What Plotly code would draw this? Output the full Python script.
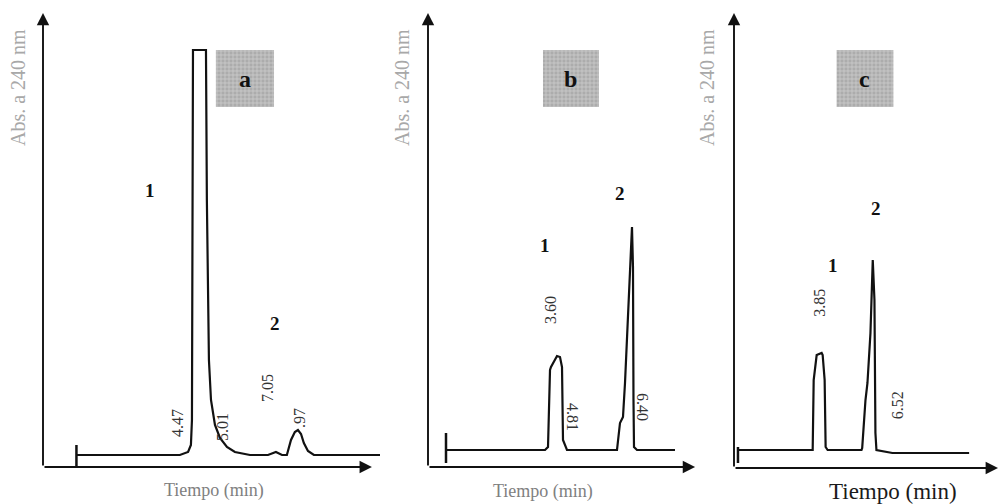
import plotly.graph_objects as go

# ---------------- data (time in min, absorbance in AU) -------------
# Panel a
a_t = [0.0, 4.02, 4.34, 4.45, 4.49, 4.53, 5.035, 5.07, 5.15, 5.23, 5.385, 5.58, 5.85, 6.16,
       6.745, 7.445, 7.755, 7.99, 8.18, 8.34, 8.49, 8.61, 8.73, 8.84, 9.0, 9.23, 11.8]
a_abs = [0.0, 0.0, 0.0075, 0.025, 0.0875, 1.0125, 1.0125, 0.6375, 0.2375, 0.1375, 0.075, 0.0425,
         0.02, 0.0075, 0.0, 0.0, 0.0075, 0.0, 0.0, 0.0375, 0.0575, 0.0625, 0.0525, 0.03, 0.01, 0.0, 0.0]
# Panel b
b_t = [0.0, 3.3, 3.4, 3.433, 3.467, 3.5, 3.7, 3.8, 3.867, 3.9, 4.033, 5.7, 5.8, 5.9, 5.967,
       6.2, 6.233, 6.25, 6.267, 6.367, 7.633]
b_abs = [0.0, 0.0, 0.0075, 0.15, 0.2, 0.2075, 0.235, 0.2325, 0.2075, 0.025, 0.0, 0.0, 0.0675,
         0.0825, 0.1675, 0.5575, 0.4575, 0.125, 0.0075, 0.0, 0.0]
# Panel c
c_t = [0.0, 3.571, 3.619, 3.762, 4.0, 4.048, 4.143, 4.19, 4.286, 5.905, 5.938, 6.095, 6.19,
       6.333, 6.443, 6.524, 6.571, 6.619, 7.381, 11.05]
c_abs = [0.0, 0.0, 0.175, 0.2375, 0.2425, 0.2375, 0.175, 0.0075, 0.0, 0.0, 0.005, 0.125, 0.1675,
         0.2925, 0.475, 0.375, 0.0425, 0.0, -0.0075, -0.0075]

# injection marks (t = 0)
inj_a = [-0.0375, 0.025]
inj_b = [-0.0325, 0.0425]
inj_c = [-0.0325, 0.0075]

# retention-time labels: (text, t, abs, angle)
a_rt = [("4.47", 3.91, 0.08, -90), ("5.01", 5.66, 0.07, -90),
        ("7.05", 7.41, 0.1675, -90), (".97", 8.65, 0.0925, -90)]
b_rt = [("3.60", 3.467, 0.35, -90), ("4.81", 4.233, 0.0825, 90), ("6.40", 6.567, 0.1075, 90)]
c_rt = [("3.85", 3.857, 0.3675, -90), ("6.52", 7.619, 0.1125, -90)]

# peak numbers: (text, t, abs)
a_pk = [("1", 2.86, 0.6625), ("2", 7.72, 0.33)]
b_pk = [("1", 3.3, 0.5125), ("2", 5.8, 0.6425)]
c_pk = [("1", 4.524, 0.4625), ("2", 6.619, 0.605)]

# panel tags: (letter, t0, t1, abs0, abs1)
a_tag = ("a", 5.42, 7.68, 0.87, 1.0125)
b_tag = ("b", 3.233, 5.1, 0.8575, 1.0)
c_tag = ("c", 4.714, 7.429, 0.8575, 1.0)

y_title = "Abs. a 240 nm"
x_title = "Tiempo (min)"

# ---------------- figure ----------------
W, H = 999, 504
SERIF = "Liberation Serif, Times New Roman, serif"

fig = go.Figure()

panels = [
    dict(t=a_t, v=a_abs, inj=inj_a, rt=a_rt, pk=a_pk, tag=a_tag, xa="x", ya="y",
         xdom=[43 / W, 380 / W], ydom=[1 - 467 / H, 1 - 13 / H], xr=[-1.3, 11.8], yr=[-0.03, 1.105],
         xtip=0.976),
    dict(t=b_t, v=b_abs, inj=inj_b, rt=b_rt, pk=b_pk, tag=b_tag, xa="x2", ya="y2",
         xdom=[428 / W, 700 / W], ydom=[1 - 467 / H, 1 - 13 / H], xr=[-0.6, 8.467], yr=[-0.0425, 1.0925],
         xtip=0.982),
    dict(t=c_t, v=c_abs, inj=inj_c, rt=c_rt, pk=c_pk, tag=c_tag, xa="x3", ya="y3",
         xdom=[734 / W, 998 / W], ydom=[1 - 468 / H, 1 - 13 / H], xr=[-0.19, 12.43], yr=[-0.045, 1.0925],
         xtip=1.0),
]

annotations = []
layout_axes = {}

for i, p in enumerate(panels):
    n = "" if i == 0 else str(i + 1)
    letter, t0, t1, v0, v1 = p["tag"]
    # shaded tag box (halftone look)
    fig.add_trace(go.Bar(x=[(t0 + t1) / 2], y=[v1 - v0], base=[v0], width=[t1 - t0],
                         xaxis=p["xa"], yaxis=p["ya"], hoverinfo="skip", showlegend=False,
                         marker=dict(color="#acacac", line=dict(width=0),
                                     pattern=dict(shape="+", fgcolor="#ececec", size=4, solidity=0.35))))
    fig.add_trace(go.Scatter(x=p["t"], y=p["v"], mode="lines", xaxis=p["xa"], yaxis=p["ya"],
                             line=dict(color="#111", width=2.2), hoverinfo="skip", showlegend=False))
    fig.add_trace(go.Scatter(x=[0, 0], y=p["inj"], mode="lines", xaxis=p["xa"], yaxis=p["ya"],
                             line=dict(color="#111", width=2.5), hoverinfo="skip", showlegend=False))
    layout_axes["xaxis" + n] = dict(domain=p["xdom"], range=p["xr"], visible=False, fixedrange=True,
                                   anchor=p["ya"])
    layout_axes["yaxis" + n] = dict(domain=p["ydom"], range=p["yr"], visible=False, fixedrange=True,
                                   anchor=p["xa"])
    xd = p["xa"] + " domain"
    yd = p["ya"] + " domain"
    # y axis arrow
    annotations.append(dict(xref=xd, yref=yd, axref=xd, ayref=yd, x=0, y=1, ax=0, ay=0, text="",
                            showarrow=True, arrowhead=2, arrowsize=1.3, arrowwidth=1.9,
                            arrowcolor="#111", standoff=0, startstandoff=0))
    # x axis arrow
    annotations.append(dict(xref=xd, yref=yd, axref=xd, ayref=yd, x=p["xtip"], y=0, ax=0, ay=0, text="",
                            showarrow=True, arrowhead=2, arrowsize=1.3, arrowwidth=1.9,
                            arrowcolor="#111", standoff=0, startstandoff=0))
    for txt, tx, ty, ang in p["rt"]:
        annotations.append(dict(xref=p["xa"], yref=p["ya"], x=tx, y=ty, text=txt, showarrow=False,
                                xanchor="center", yanchor="middle",
                                textangle=ang, font=dict(family=SERIF, size=16, color="#333")))
    for txt, tx, ty in p["pk"]:
        annotations.append(dict(xref=p["xa"], yref=p["ya"], x=tx, y=ty, text="<b>%s</b>" % txt,
                                xanchor="center", yanchor="middle",
                                showarrow=False, font=dict(family=SERIF, size=19, color="#111")))
    annotations.append(dict(xref=p["xa"], yref=p["ya"], x=(t0 + t1) / 2, y=(v0 + v1) / 2,
                            text="<b>%s</b>" % letter, showarrow=False,
                            xanchor="center", yanchor="middle",
                            font=dict(family=SERIF, size=24, color="#111")))

# axis titles
ytitle_pos = [(18, 88), (402, 88), (707, 88)]
for (px, py) in ytitle_pos:
    annotations.append(dict(xref="paper", yref="paper", x=px / W, y=1 - py / H, text=y_title,
                            showarrow=False, textangle=-90, xanchor="center", yanchor="middle",
                            font=dict(family=SERIF, size=20, color="#a8a8a8")))
xtitle_pos = [(214, 490, 18, "#808080"), (543, 491, 18, "#808080"), (893, 491, 23, "#1a1a1a")]
for (px, py, sz, col) in xtitle_pos:
    annotations.append(dict(xref="paper", yref="paper", x=px / W, y=1 - py / H, text=x_title,
                            showarrow=False, xanchor="center", yanchor="middle",
                            font=dict(family=SERIF, size=sz, color=col)))

fig.update_layout(width=W, height=H, margin=dict(l=0, r=0, t=0, b=0),
                  paper_bgcolor="white", plot_bgcolor="white", showlegend=False,
                  barmode="overlay", annotations=annotations, **layout_axes)

fig.write_html("out.html", config={"displayModeBar": False},
               post_script="document.body.style.margin='0';document.body.style.overflow='hidden';")
